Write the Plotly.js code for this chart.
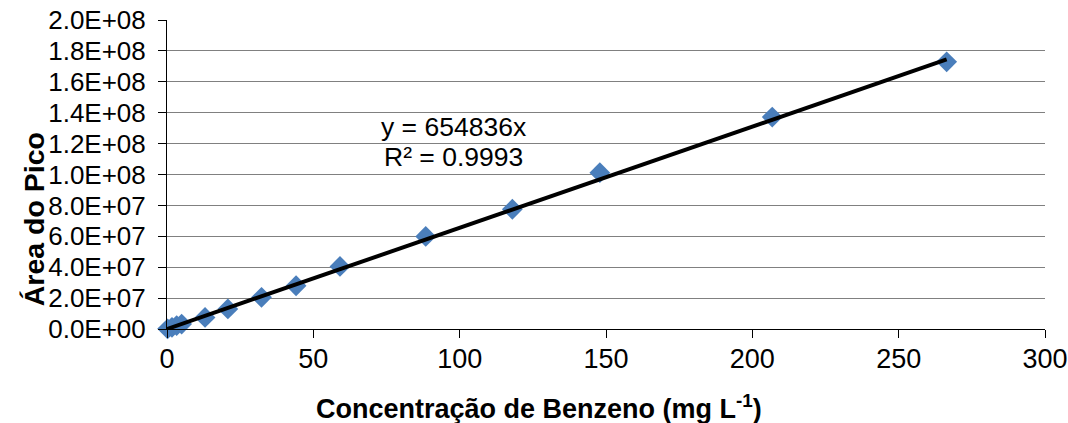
<!DOCTYPE html>
<html>
<head>
<meta charset="utf-8">
<script src="https://cdn.plot.ly/plotly-3.0.1.min.js"></script>
<style>
  html, body { margin: 0; padding: 0; background: #fff; }
  #chart { width: 1068px; height: 423px; }
</style>
</head>
<body>
<div id="chart"></div>
<script>
// Calibration points: benzene concentration (mg/L) vs. peak area
const concentration = [0.2, 1.7, 3.3, 5.0, 13.0, 20.8, 32.3, 44.1, 59.1, 88.4, 118.0, 147.9, 206.8, 266.4];
const peakArea = [1.0e5, 1.1e6, 2.2e6, 3.2e6, 7.5e6, 1.3e7, 2.05e7, 2.8e7, 4.05e7, 5.99e7, 7.75e7, 1.012e8, 1.372e8, 1.729e8];

// Linear fit through the origin
const slope = 654836;
const rSquared = 0.9993;

const yTickValues = [0, 2e7, 4e7, 6e7, 8e7, 1e8, 1.2e8, 1.4e8, 1.6e8, 1.8e8, 2e8];
const yTickLabels = ['0.0E+00', '2.0E+07', '4.0E+07', '6.0E+07', '8.0E+07', '1.0E+08',
                     '1.2E+08', '1.4E+08', '1.6E+08', '1.8E+08', '2.0E+08'];
const xTickValues = [0, 50, 100, 150, 200, 250, 300];
const xTickLabels = ['0', '50', '100', '150', '200', '250', '300'];

const xTitle = '<b>Concentração de Benzeno (mg L<sup>-1</sup>)</b>';
const yTitle = '<b>Área do Pico</b>';

const fitX = [0, Math.max(...concentration)];
const fitY = fitX.map(x => slope * x);

const font = 'Liberation Sans, Arial, sans-serif';

const traces = [
  {
    x: concentration,
    y: peakArea,
    type: 'scatter',
    mode: 'markers',
    marker: { symbol: 'diamond', size: 16, color: '#4A7EBB' },
    cliponaxis: false,
    hoverinfo: 'x+y'
  },
  {
    x: fitX,
    y: fitY,
    type: 'scatter',
    mode: 'lines',
    line: { color: '#000000', width: 4 },
    cliponaxis: false,
    hoverinfo: 'skip'
  }
];

const layout = {
  width: 1068,
  height: 423,
  margin: { l: 167, r: 23, t: 20, b: 94 },
  paper_bgcolor: '#ffffff',
  plot_bgcolor: '#ffffff',
  showlegend: false,
  font: { family: font, color: '#000000', size: 24 },
  xaxis: {
    range: [0, 300],
    tickvals: xTickValues,
    ticktext: xTickLabels,
    ticks: 'outside',
    ticklen: 8,
    tickwidth: 1,
    tickcolor: '#000000',
    showline: true,
    linecolor: '#000000',
    linewidth: 1,
    showgrid: false,
    zeroline: false,
    ticklabelstandoff: -2,
    tickfont: { family: font, size: 27, color: '#000000' }
  },
  yaxis: {
    range: [0, 2e8],
    tickvals: yTickValues,
    ticktext: yTickLabels,
    ticks: 'outside',
    ticklen: 8,
    tickwidth: 1,
    tickcolor: '#000000',
    showline: true,
    linecolor: '#000000',
    linewidth: 1,
    showgrid: true,
    gridcolor: '#808080',
    gridwidth: 1,
    zeroline: false,
    ticklabelstandoff: 7,
    tickfont: { family: font, size: 26, color: '#000000' }
  },
  annotations: [
    {
      x: 72.5, y: 1.31e8, xref: 'x', yref: 'y',
      xanchor: 'left', yanchor: 'middle', showarrow: false,
      text: 'y = ' + slope + 'x',
      font: { family: font, size: 26.5, color: '#000000' }
    },
    {
      x: 73.5, y: 1.115e8, xref: 'x', yref: 'y',
      xanchor: 'left', yanchor: 'middle', showarrow: false,
      text: 'R² = ' + rSquared.toFixed(4),
      font: { family: font, size: 26.5, color: '#000000' }
    },
    {
      x: 0.4237, y: -0.252, xref: 'paper', yref: 'paper',
      xanchor: 'center', yanchor: 'middle', showarrow: false,
      text: xTitle,
      font: { family: font, size: 27, color: '#000000' }
    },
    {
      x: -0.1512, y: 0.356, xref: 'paper', yref: 'paper',
      xanchor: 'center', yanchor: 'middle', showarrow: false,
      textangle: -90,
      text: yTitle,
      font: { family: font, size: 28.5, color: '#000000' }
    }
  ]
};

Plotly.newPlot('chart', traces, layout, { displayModeBar: false, staticPlot: true });
</script>
</body>
</html>
